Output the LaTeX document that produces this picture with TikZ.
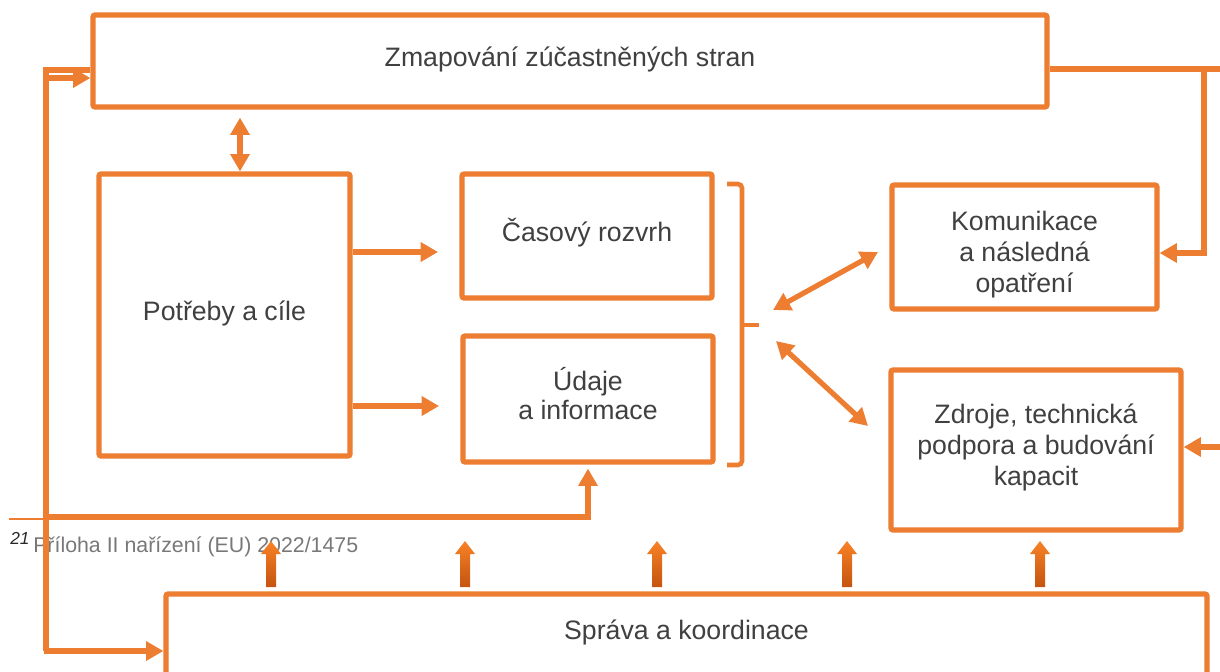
\documentclass[tikz,border=0pt]{standalone}
\usepackage{fontspec}
\setmainfont{Liberation Sans}
\usetikzlibrary{arrows.meta}
\definecolor{brand}{RGB}{237,125,49}
\definecolor{txt}{RGB}{64,64,64}
\definecolor{fngray}{RGB}{120,120,120}
\definecolor{fnnum}{RGB}{40,40,40}
\definecolor{barA}{RGB}{248,130,38}
\definecolor{barB}{RGB}{196,84,16}
\newcommand\pxu{0.75pt}
\begin{document}
\begin{tikzpicture}[x=0.75pt,y=-0.75pt,
  box/.style={draw=brand,line width=3.9pt,fill=white,rounded corners=1.5pt,inner sep=0pt},
  boxtext/.style={text=txt,align=center,inner sep=0pt,font={\fontsize{20}{23.25}\selectfont}},
  conn/.style={draw=brand,line width=3.9pt},
  tipA/.tip={Triangle[length=13pt,width=14pt]},
  arr/.style={conn,-tipA},
  darr/.style={conn,tipA-tipA},
  bracketline/.style={draw=brand,line width=3.4pt,rounded corners=3pt},
  blockarrow/.style={top color=barA,bottom color=barB},
]
\useasboundingbox (0,0) rectangle (1220,671);

% boxes
\node[box,minimum width=954*\pxu,minimum height=92*\pxu] (zmap) at (570,61) {};
\node[box,minimum width=251*\pxu,minimum height=282*\pxu] (potreby) at (224.5,315) {};
\node[box,minimum width=250*\pxu,minimum height=124*\pxu] (casovy) at (587,236) {};
\node[box,minimum width=250*\pxu,minimum height=126*\pxu] (udaje) at (588,399) {};
\node[box,minimum width=265*\pxu,minimum height=124*\pxu] (komun) at (1024.5,247) {};
\node[box,minimum width=290*\pxu,minimum height=160*\pxu] (zdroje) at (1036,450) {};
\node[box,minimum width=1041*\pxu,minimum height=92*\pxu] (sprava) at (686.5,640) {};

% box texts
\node[boxtext] (zmapT) at ([yshift=1.5pt]zmap.center) {Zmapování zúčastněných stran};
\node[boxtext] (potrebyT) at ([yshift=0.8pt]potreby.center) {Potřeby a cíle};
\node[boxtext] (casovyT) at ([yshift=2.2pt]casovy.center) {Časový rozvrh};
\node[boxtext,font={\fontsize{20}{21.75}\selectfont}] (udajeT) at ([yshift=3.8pt]udaje.center) {Údaje\\a informace};
\node[boxtext] (komunT) at ([yshift=-5.6pt]komun.center) {Komunikace\\a následná\\opatření};
\node[boxtext] (zdrojeT) at ([yshift=2.2pt]zdroje.center) {Zdroje, technická\\podpora a budování\\kapacit};
\node[boxtext] (spravaT) at (686.5,632) {Správa a koordinace};

% footnote
\draw[draw=brand,line width=1.2pt] (9,519) -- (393,519);
\node[anchor=base west,inner sep=0pt,text=fnnum,font={\fontsize{13}{15}\selectfont\itshape}] (fnn) at (10,544) {21};
\node[anchor=base west,inner sep=0pt,text=fngray,font={\fontsize{16}{19}\selectfont}] (fnt) at (33,552) {Příloha II nařízení (EU) 2022/1475};

% left loop
\draw[conn] (zmap.west |- 0,70) -- (46,70) -- (46,651);
\draw[arr] (44,651) -- (sprava.west |- 0,651);
\draw[arr] (48,78) -- (zmap.west |- 0,78);
\draw[arr] (46,517) -| ([yshift=-3pt]udaje.south);

% zmap <-> potreby
\draw[darr,shorten <=6pt] (zmap.south -| 240,0) -- (potreby.north -| 240,0);

% potreby -> casovy, udaje
\draw[arr,shorten >=16pt] (potreby.east |- 0,252) -- (casovy.west |- 0,252);
\draw[arr,shorten >=16pt] (potreby.east |- 0,406) -- (udaje.west |- 0,406);

% bracket
\draw[bracketline] (727,184) -- (742,184) -- (742,465) -- (727,465);
\draw[bracketline] (742,325) -- (759,325);

% diagonal double arrows
\coordinate (b1) at (773,310);
\coordinate (k1) at (878,252);
\coordinate (b2) at (776,341);
\coordinate (z1) at (868,426);
\draw[darr] (b1) -- (k1);
\draw[darr] (b2) -- (z1);

% right side
\draw[conn] (zmap.east |- 0,69) -- (1225,69);
\draw[arr] (1204,67) |- (komun.east |- 0,253);
\draw[arr] (1225,447) -- (zdroje.east |- 0,447);

% block arrows from sprava
\foreach \bx in {271,465,657,847,1040}{
  \shade[blockarrow] (\bx-5,587) -- (\bx-5,554) -- (\bx-10,554) -- (\bx,541) -- (\bx+10,554) -- (\bx+5,554) -- (\bx+5,587) -- cycle;
}
\end{tikzpicture}
\end{document}
